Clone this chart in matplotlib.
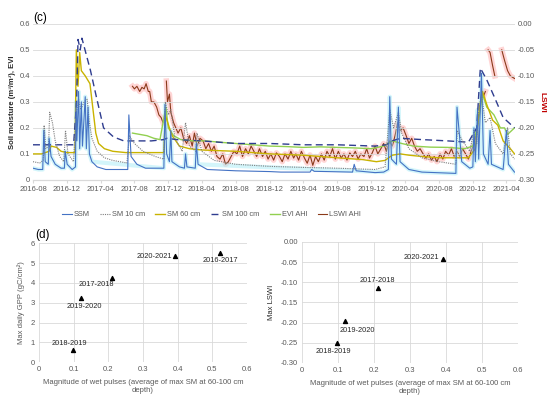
import numpy as np
import pandas as pd
import matplotlib
matplotlib.use("Agg")
import matplotlib.pyplot as plt
import matplotlib.dates as mdates
from matplotlib.ticker import FuncFormatter, MultipleLocator

plt.rcParams['font.family'] = ['Liberation Sans', 'DejaVu Sans']

################################################################################
## Data (c): time series
################################################################################
ssm_dates = ["2016-08-01", "2016-08-20", "2016-09-05", "2016-09-09", "2016-09-14", "2016-09-25",
             "2016-09-28", "2016-10-05", "2016-10-20", "2016-11-10", "2016-11-22", "2016-11-25",
             "2016-12-02", "2016-12-20", "2017-01-01", "2017-01-03", "2017-01-06", "2017-01-12",
             "2017-01-16", "2017-01-22", "2017-01-26", "2017-02-05", "2017-02-09", "2017-02-15",
             "2017-02-20", "2017-03-01", "2017-03-20", "2017-04-20", "2017-06-01", "2017-07-08",
             "2017-07-12", "2017-07-20", "2017-08-10", "2017-09-10", "2017-11-15", "2017-11-19",
             "2017-11-25", "2017-12-05", "2017-12-10", "2017-12-14", "2018-01-10", "2018-01-28",
             "2018-02-01", "2018-02-06", "2018-03-08", "2018-03-12", "2018-03-18", "2018-04-20",
             "2018-08-01", "2018-12-01", "2019-01-10", "2019-04-25", "2019-05-01", "2019-05-10",
             "2019-09-25", "2019-10-01", "2019-10-08", "2019-12-15", "2020-01-15", "2020-02-01",
             "2020-02-06", "2020-02-12", "2020-03-01", "2020-03-08", "2020-03-14", "2020-04-15",
             "2020-06-01", "2020-10-01", "2020-10-05", "2020-10-22", "2020-11-20", "2020-12-01",
             "2020-12-05", "2020-12-10", "2020-12-18", "2020-12-22", "2021-01-01", "2021-01-08",
             "2021-01-25", "2021-02-01", "2021-02-06", "2021-03-20", "2021-04-01", "2021-04-08",
             "2021-04-30"]
ssm_vals = [0.045, 0.04, 0.04, 0.19, 0.07, 0.06,
            0.16, 0.09, 0.06, 0.045, 0.045, 0.11,
            0.06, 0.04, 0.05, 0.30, 0.15, 0.34,
            0.12, 0.30, 0.13, 0.32, 0.12, 0.28,
            0.10, 0.07, 0.05, 0.04, 0.04, 0.04,
            0.25, 0.09, 0.06, 0.045, 0.045, 0.29,
            0.10, 0.07, 0.19, 0.07, 0.05, 0.045,
            0.10, 0.05, 0.045, 0.14, 0.06, 0.04,
            0.035, 0.032, 0.03, 0.03, 0.04, 0.033,
            0.03, 0.06, 0.035, 0.028, 0.03, 0.04,
            0.32, 0.08, 0.06, 0.28, 0.07, 0.04,
            0.03, 0.025, 0.28, 0.07, 0.045, 0.05,
            0.20, 0.07, 0.27, 0.08, 0.41, 0.10,
            0.06, 0.19, 0.06, 0.04, 0.19, 0.06,
            0.03]

sm10_dates = ["2016-08-01", "2016-08-25", "2016-09-07", "2016-09-10", "2016-09-16", "2016-09-26",
              "2016-09-30", "2016-10-10", "2016-10-20", "2016-11-05", "2016-11-20", "2016-11-26",
              "2016-12-05", "2016-12-25", "2017-01-03", "2017-01-12", "2017-01-20", "2017-02-01",
              "2017-02-12", "2017-02-20", "2017-03-01", "2017-03-20", "2017-04-15", "2017-05-15",
              "2017-07-05", "2017-07-14", "2017-08-01", "2017-09-01", "2017-10-15", "2017-11-15",
              "2017-11-20", "2017-12-01", "2017-12-10", "2017-12-25", "2018-01-20", "2018-02-01",
              "2018-02-15", "2018-03-10", "2018-03-14", "2018-04-01", "2018-05-15", "2018-08-01",
              "2018-12-01", "2019-04-01", "2019-08-01", "2019-12-15", "2020-01-20", "2020-02-06",
              "2020-02-20", "2020-03-08", "2020-03-20", "2020-04-15", "2020-06-01", "2020-08-01",
              "2020-10-01", "2020-10-06", "2020-10-25", "2020-11-20", "2020-12-05", "2020-12-15",
              "2020-12-20", "2021-01-01", "2021-01-15", "2021-02-01", "2021-02-20", "2021-03-20",
              "2021-04-05", "2021-04-15", "2021-04-30"]
sm10_vals = [0.07, 0.065, 0.075, 0.21, 0.12, 0.13,
             0.26, 0.22, 0.15, 0.09, 0.07, 0.19,
             0.10, 0.07, 0.25, 0.31, 0.27, 0.30,
             0.31, 0.22, 0.16, 0.11, 0.085, 0.075,
             0.065, 0.17, 0.14, 0.11, 0.09, 0.08,
             0.30, 0.25, 0.27, 0.16, 0.11, 0.22,
             0.13, 0.11, 0.18, 0.11, 0.075, 0.06,
             0.052, 0.048, 0.045, 0.04, 0.05, 0.27,
             0.20, 0.26, 0.18, 0.12, 0.085, 0.07,
             0.06, 0.19, 0.15, 0.11, 0.19, 0.14,
             0.25, 0.33, 0.22, 0.24, 0.14, 0.10,
             0.20, 0.10, 0.08]

sm60_dates = ["2016-08-01", "2016-09-01", "2016-09-28", "2016-10-05", "2016-10-25", "2016-11-10",
              "2016-12-01", "2016-12-30", "2017-01-04", "2017-01-10", "2017-01-16", "2017-01-22",
              "2017-02-05", "2017-02-22", "2017-03-05", "2017-03-15", "2017-03-25", "2017-04-15",
              "2017-05-15", "2017-07-01", "2017-10-01", "2017-11-15", "2017-11-20", "2017-12-05",
              "2017-12-15", "2018-01-10", "2018-02-15", "2018-04-01", "2018-08-01", "2018-12-01",
              "2019-04-01", "2019-08-01", "2019-11-01", "2019-12-20", "2020-01-20",
              "2020-02-15", "2020-03-15", "2020-04-15", "2020-06-01", "2020-08-01", "2020-11-15",
              "2020-12-10", "2020-12-25", "2021-01-05", "2021-01-20", "2021-02-10", "2021-03-01",
              "2021-03-20", "2021-04-15", "2021-04-30"]
sm60_vals = [0.10, 0.10, 0.11, 0.13, 0.125, 0.11,
             0.105, 0.105, 0.50, 0.36, 0.49, 0.42,
             0.40, 0.37, 0.27, 0.18, 0.14, 0.12,
             0.11, 0.105, 0.105, 0.105, 0.25, 0.20,
             0.17, 0.13, 0.12, 0.115, 0.11, 0.10,
             0.095, 0.085, 0.078, 0.07, 0.075,
             0.095, 0.10, 0.095, 0.09, 0.085, 0.085,
             0.12, 0.28, 0.34, 0.29, 0.23, 0.21,
             0.15, 0.12, 0.10]

sm100_dates = ["2016-08-01", "2016-12-25", "2017-01-05", "2017-01-10", "2017-01-18", "2017-01-24",
               "2017-02-24", "2017-03-19", "2017-04-12", "2017-05-18", "2017-06-24", "2017-10-01",
               "2017-11-15", "2017-11-25", "2018-01-01", "2018-04-01", "2018-08-01", "2018-12-01",
               "2019-04-01", "2019-08-01", "2019-12-15", "2020-01-25", "2020-02-15", "2020-03-15",
               "2020-06-01", "2020-09-01", "2020-11-15", "2020-12-15", "2020-12-28", "2021-01-20",
               "2021-02-20", "2021-03-20", "2021-04-30"]
sm100_vals = [0.135, 0.135, 0.30, 0.54, 0.50, 0.545,
              0.42, 0.31, 0.20, 0.165, 0.15, 0.15,
              0.155, 0.16, 0.155, 0.15, 0.14, 0.14,
              0.135, 0.135, 0.13, 0.135, 0.15, 0.16,
              0.155, 0.15, 0.145, 0.20, 0.43, 0.385,
              0.31, 0.24, 0.20]

evi_dates = ["2017-07-25", "2017-08-20", "2017-09-15", "2017-10-10", "2017-11-01", "2017-11-22",
             "2017-12-01", "2017-12-20", "2018-01-15", "2018-03-01", "2018-04-15", "2018-06-01",
             "2018-08-01", "2018-10-01", "2018-12-01", "2019-02-01", "2019-04-01", "2019-06-01",
             "2019-08-01", "2019-10-01", "2019-12-01", "2020-01-15", "2020-02-15", "2020-03-20",
             "2020-05-01", "2020-07-01", "2020-09-01", "2020-11-01", "2020-12-01", "2020-12-20",
             "2021-01-05", "2021-01-20", "2021-02-15", "2021-03-10", "2021-03-25", "2021-04-05",
             "2021-04-30"]
evi_vals = [0.18, 0.175, 0.17, 0.16, 0.155, 0.28,
            0.20, 0.17, 0.155, 0.15, 0.15, 0.145,
            0.14, 0.135, 0.13, 0.128, 0.125, 0.127,
            0.125, 0.123, 0.12, 0.13, 0.15, 0.14,
            0.13, 0.126, 0.125, 0.12, 0.13, 0.22,
            0.33, 0.28, 0.25, 0.20, 0.20, 0.175,
            0.20]

# LSWI: irregular early / late parts, dense 3-per-month part in between
lswi_dates_a = ["2017-07-25", "2017-08-01", "2017-08-10", "2017-08-20", "2017-08-28", "2017-09-05",
                "2017-09-12", "2017-09-20", "2017-09-25", "2017-10-01", "2017-10-10", "2017-10-20",
                "2017-10-28", "2017-11-05", "2017-11-12", "2017-11-18", "2017-11-24", "2017-11-28",
                "2017-12-05", "2017-12-10", "2017-12-20"]
lswi_vals_a = [-0.12, -0.125, -0.12, -0.13, -0.122, -0.125,
               -0.115, -0.13, -0.13, -0.15, -0.15, -0.16,
               -0.175, -0.18, -0.19, np.nan, -0.11, -0.15,
               -0.135, -0.17, -0.19]
lswi_months = ["2018-%02d" % m for m in range(1, 13)] + ["2019-%02d" % m for m in range(1, 13)] \
              + ["2020-%02d" % m for m in range(1, 12)]
lswi_dates_b = [m + "-" + dd for m in lswi_months for dd in ["05", "15", "25"]]
lswi_vals_b = [-0.21, -0.20, -0.22,    -0.23, -0.215, -0.235,   -0.21, -0.235, -0.22,
               -0.225, -0.24, -0.23,   -0.245, -0.235, -0.255,  -0.26, -0.25, -0.27,
               -0.265, -0.255, -0.245, -0.25, -0.235, -0.255,   -0.24, -0.25, -0.235,
               -0.245, -0.255, -0.24,  -0.255, -0.245, -0.26,   -0.25, -0.262, -0.248,
               -0.255, -0.265, -0.25,  -0.26, -0.245, -0.258,   -0.25, -0.262, -0.245,
               -0.258, -0.268, -0.252, -0.272, -0.255, -0.265,  -0.25, -0.262, -0.245,
               -0.255, -0.24, -0.26,   -0.245, -0.258, -0.25,   -0.262, -0.248, -0.255,
               -0.245, -0.26, -0.25,   -0.255, -0.24, -0.258,   -0.248, -0.235, -0.25,
               -0.24, -0.23, -0.245,   -0.225, -0.235, -0.215,  -0.19, -0.205, -0.20,
               -0.215, -0.23, -0.22,   -0.235, -0.245, -0.24,   -0.25, -0.258, -0.25,
               -0.262, -0.255, -0.265, -0.25, -0.26, -0.245,    -0.252, -0.24, -0.255,
               -0.245, -0.255, -0.24,  -0.25, -0.26, -0.245]
lswi_dates_c = ["2020-12-05", "2020-12-15", "2020-12-28", "2021-01-08", "2021-01-15", "2021-01-20",
                "2021-01-25", "2021-02-01", "2021-02-10", "2021-02-18", "2021-03-01", "2021-03-15",
                "2021-03-25", "2021-04-05", "2021-04-15", "2021-04-30"]
lswi_vals_c = [-0.23, -0.21, np.nan, -0.14, -0.13, np.nan,
               -0.05, -0.055, -0.08, -0.10, np.nan, -0.05,
               -0.07, -0.09, -0.10, -0.105]

################################################################################
## Data (d): wet pulse magnitude vs max GPP / max LSWI
################################################################################
seasons = ["2016-2017", "2017-2018", "2018-2019", "2019-2020", "2020-2021"]
pulse = [0.522, 0.21, 0.097, 0.12, 0.392]
max_gpp = [5.5, 4.25, 0.62, 3.25, 5.35]
lswi_seasons = ["2017-2018", "2018-2019", "2019-2020", "2020-2021"]
lswi_pulse = [0.21, 0.097, 0.12, 0.392]
max_lswi = [-0.113, -0.25, -0.197, -0.043]

################################################################################
## Figure
################################################################################
tick_col = "#595959"
grid_col = "#d9d9d9"
fig = plt.figure(figsize=(5.5, 3.98), dpi=100)

# ---- panel (c)
ax = fig.add_axes([0.06, 0.548, 0.876, 0.392])
ax2 = ax.twinx()

def ts(d, v):
    return pd.to_datetime(d), np.array(v, dtype=float)

d, v = ts(ssm_dates, ssm_vals)
wet = (d < pd.Timestamp("2017-03-15")) | (d > pd.Timestamp("2019-12-20")) | \
      ((d > pd.Timestamp("2017-11-10")) & (d < pd.Timestamp("2018-03-25")))
ax.plot(d[wet], v[wet], color="#a8ecf7", lw=3, alpha=0.5, zorder=1)
ax.plot(d, v, color="#4472c4", lw=0.8, zorder=5, label="SSM")
d, v = ts(sm10_dates, sm10_vals)
ax.plot(d, v, color="#7f7f7f", lw=0.8, ls=(0, (1, 1)), zorder=4, label="SM 10 cm")
d, v = ts(sm60_dates, sm60_vals)
ax.plot(d, v, color="#c9b300", lw=1.0, zorder=3, label="SM 60 cm")
d, v = ts(sm100_dates, sm100_vals)
ax.plot(d, v, color="#2f3d8f", lw=1.0, ls=(0, (5, 3)), zorder=3, label="SM 100 cm")
d, v = ts(evi_dates, evi_vals)
ax.plot(d, v, color="#92d050", lw=1.0, zorder=2, label="EVI AHI")
d, v = ts(lswi_dates_a + lswi_dates_b + lswi_dates_c, lswi_vals_a + lswi_vals_b + lswi_vals_c)
ax2.plot(d, v, color="#ff6b6b", lw=4, alpha=0.28, zorder=1)
lswi_line, = ax2.plot(d, v, color="#8b3a1a", lw=0.8, zorder=2, label="LSWI AHI")

ax.set_ylim(0, 0.6)
ax2.set_ylim(-0.30, 0.0)
ax.set_xlim(pd.Timestamp("2016-08-01"), pd.Timestamp("2021-05-01"))
ax.yaxis.set_major_locator(MultipleLocator(0.1))
ax2.yaxis.set_major_locator(MultipleLocator(0.05))
ax.yaxis.set_major_formatter(FuncFormatter(lambda x, p: "0" if abs(x) < 1e-9 else "%.1f" % x))
ax2.yaxis.set_major_formatter(FuncFormatter(lambda x, p: "%.2f" % x if abs(x) > 1e-9 else "0.00"))
ax.xaxis.set_major_locator(mdates.MonthLocator(bymonth=[4, 8, 12]))
ax.xaxis.set_major_formatter(mdates.DateFormatter("%Y-%m"))
ax.grid(axis="y", color=grid_col, lw=0.6)
ax.set_axisbelow(True)
for a in (ax, ax2):
    for s in ["top", "left", "right"]:
        a.spines[s].set_visible(False)
    a.spines["bottom"].set_color(grid_col)
    a.tick_params(length=0, labelsize=5.5, colors=tick_col, pad=2)
ax.tick_params(axis="x", length=2.5, color=grid_col)
ax.set_ylabel("Soil moisture (m\u00b3/m\u00b3), EVI", fontsize=5.5, fontweight="bold", color="#262626", labelpad=3)
ax2.set_ylabel("LSWI", fontsize=6, fontweight="bold", color="#c00000", rotation=270, labelpad=8)
ax.set_zorder(ax2.get_zorder() + 1)
ax.patch.set_visible(False)
fig.text(0.06, 0.97, "(c)", fontsize=8.5, va="top")

handles, labels = ax.get_legend_handles_labels()
handles.append(lswi_line)
labels.append("LSWI AHI")
leg = fig.legend(handles, labels, loc="center", bbox_to_anchor=(0.385, 0.46), ncol=6,
                 frameon=False, fontsize=5.3, handlelength=1.3, columnspacing=1.4, handletextpad=0.3)
for t in leg.get_texts():
    t.set_color(tick_col)

# ---- panel (d) left: GPP
bx = fig.add_axes([0.071, 0.09, 0.378, 0.299])
bx.scatter(pulse, max_gpp, marker="^", s=8, color="black", zorder=3)
offsets = {"2016-2017": (0.0, -0.35), "2017-2018": (-0.045, -0.35),
           "2018-2019": (-0.01, 0.3), "2019-2020": (0.01, -0.42),
           "2020-2021": (-0.06, 0.0)}
for s, xv, yv in zip(seasons, pulse, max_gpp):
    dx, dy = offsets[s]
    bx.text(xv + dx, yv + dy, s, fontsize=5.3, ha="center", va="center", color="#262626")
bx.set_xlim(0, 0.6)
bx.set_ylim(0, 6)
bx.xaxis.set_major_locator(MultipleLocator(0.1))
bx.yaxis.set_major_locator(MultipleLocator(1))
bx.xaxis.set_major_formatter(FuncFormatter(lambda x, p: "0" if abs(x) < 1e-9 else "%.1f" % x))
bx.set_ylabel("Max daily GPP (gC/cm\u00b2)", fontsize=5.5, color=tick_col)
bx.set_xlabel("Magnitude of wet pulses (average of max SM at 60-100 cm\ndepth)", fontsize=5.5, color=tick_col)

# ---- panel (d) right: LSWI
cx = fig.add_axes([0.549, 0.088, 0.393, 0.304])
cx.scatter(lswi_pulse, max_lswi, marker="^", s=8, color="black", zorder=3)
offsets2 = {"2017-2018": (0.0, 0.018), "2018-2019": (-0.01, -0.022),
            "2019-2020": (0.035, -0.022), "2020-2021": (-0.06, 0.005)}
for s, xv, yv in zip(lswi_seasons, lswi_pulse, max_lswi):
    dx, dy = offsets2[s]
    cx.text(xv + dx, yv + dy, s, fontsize=5.3, ha="center", va="center", color="#262626")
cx.set_xlim(0, 0.6)
cx.set_ylim(-0.30, 0.0)
cx.xaxis.set_major_locator(MultipleLocator(0.1))
cx.yaxis.set_major_locator(MultipleLocator(0.05))
cx.xaxis.set_major_formatter(FuncFormatter(lambda x, p: "0" if abs(x) < 1e-9 else "%.1f" % x))
cx.yaxis.set_major_formatter(FuncFormatter(lambda x, p: "%.2f" % x if abs(x) > 1e-9 else "0.00"))
cx.set_ylabel("Max LSWI", fontsize=5.5, color="#262626")
cx.set_xlabel("Magnitude of wet pulses (average of max SM at 60-100 cm\ndepth)", fontsize=5.5, color=tick_col)

for a in (bx, cx):
    a.grid(True, color=grid_col, lw=0.6)
    a.set_axisbelow(True)
    for s in a.spines.values():
        s.set_visible(False)
    a.tick_params(length=0, labelsize=5.5, colors=tick_col, pad=3)

fig.text(0.065, 0.425, "(d)", fontsize=8.5, va="top")

fig.savefig("out.png", dpi=100)
